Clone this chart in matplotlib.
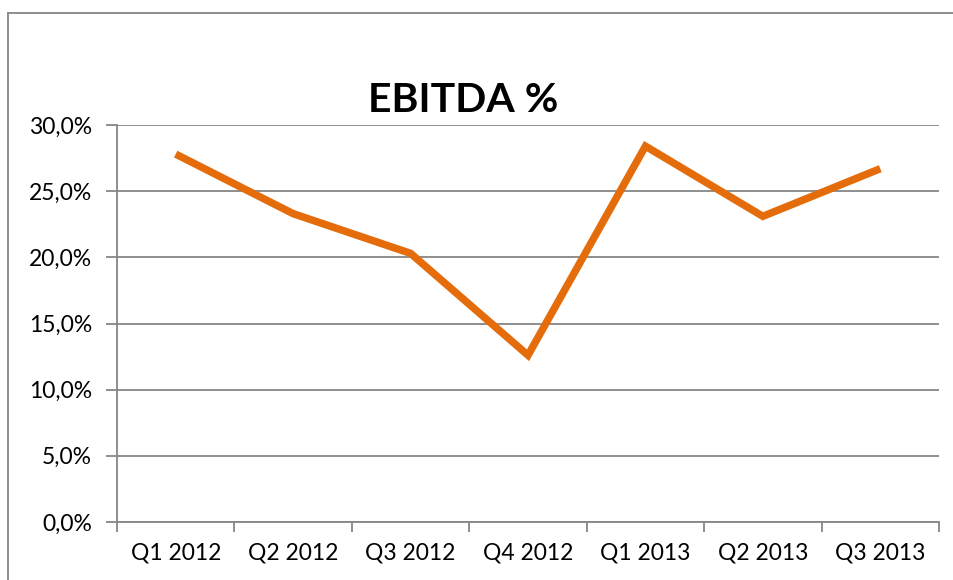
import matplotlib
matplotlib.use("Agg")
import matplotlib.pyplot as plt
from matplotlib.ticker import FuncFormatter, FixedLocator

categories = ["Q1 2012", "Q2 2012", "Q3 2012", "Q4 2012", "Q1 2013", "Q2 2013", "Q3 2013"]
values = [27.8, 23.3, 20.3, 12.6, 28.4, 23.1, 26.7]
yticks = [0, 5, 10, 15, 20, 25, 30]
title = "EBITDA %"

plt.rcParams['font.family'] = ['Lato', 'DejaVu Sans']

W, H = 954, 580
fig = plt.figure(figsize=(W/100, H/100), dpi=100)
left, right, top, bottom = 117, 939, 125, 522
ax = fig.add_axes([left/W, 1 - bottom/H, (right-left)/W, (bottom-top)/H])

x = list(range(len(categories)))
ax.plot(x, values, color="#E46C0A", lw=5.4, solid_capstyle="butt", solid_joinstyle="miter", zorder=3)

ax.set_xlim(-0.5, len(categories) - 0.5)
ax.set_ylim(0, 30)
ax.set_yticks(yticks)
ax.yaxis.set_major_formatter(FuncFormatter(lambda v, p: f"{v:.1f}%".replace(".", ",")))
ax.grid(axis="y", color="#868686", lw=1.3)
ax.set_axisbelow(True)

ax.xaxis.set_major_locator(FixedLocator([i - 0.5 for i in range(len(categories) + 1)]))
ax.xaxis.set_minor_locator(FixedLocator(x))
ax.set_xticklabels([])
ax.set_xticklabels(categories, minor=True)
ax.tick_params(axis="x", which="major", length=7, width=1.3, color="#868686", direction="out")
ax.tick_params(axis="x", which="minor", length=0, pad=15, labelsize=16.5)
ax.tick_params(axis="y", length=8, width=1.3, color="#868686", labelsize=16.5, pad=10)

for s in ["top", "right"]:
    ax.spines[s].set_visible(False)
for s in ["left", "bottom"]:
    ax.spines[s].set_color("#868686")
    ax.spines[s].set_linewidth(1.3)

fig.text(463/W, 1 - 100/H, title, ha="center", va="center", fontsize=29.5, fontweight="bold")

# outer chart border (only left and top visible in crop)
fig.add_artist(plt.Line2D([8/W, 8/W], [0, 1 - 13/H], color="#868686", lw=1.3, transform=fig.transFigure))
fig.add_artist(plt.Line2D([8/W, 1], [1 - 13/H, 1 - 13/H], color="#868686", lw=1.3, transform=fig.transFigure))

fig.savefig("out.png", dpi=100)
